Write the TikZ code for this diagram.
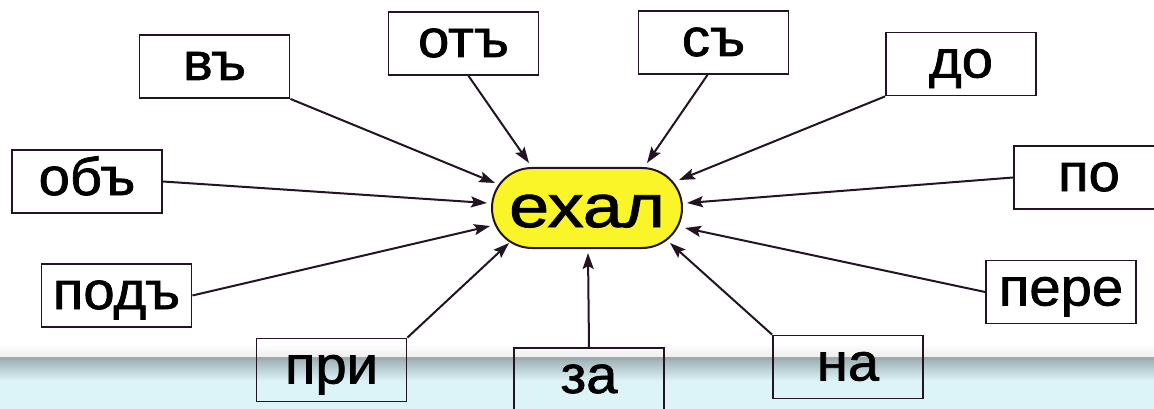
\documentclass[tikz,border=0pt]{standalone}
\usepackage{fontspec}
\setmainfont{Liberation Sans}
\newfontfamily\boxfont[FakeStretch=1.06,FakeBold=1.3]{Liberation Sans}
\newfontfamily\ehalfont[FakeStretch=1.2,FakeBold=1.5]{Liberation Sans}
\usetikzlibrary{arrows.meta}
\definecolor{edge}{RGB}{35,20,35}
\definecolor{bandgray}{RGB}{160,170,172}
\definecolor{bandtop}{RGB}{160,178,181}
\definecolor{bandblue}{RGB}{220,243,248}
\definecolor{ehalyellow}{RGB}{250,245,40}
\tikzset{
  wordbox/.style={draw=edge, line width=1.8pt, rectangle, minimum width=150pt,
    minimum height=63pt, inner sep=0pt, text height=27pt, text depth=0pt,
    font=\boxfont\fontsize{53}{60}\selectfont},
  centre/.style={draw=edge, line width=2pt, fill=ehalyellow, rectangle,
    rounded corners=40pt, minimum width=190pt, minimum height=80pt, inner sep=0pt,
    text height=38pt, text depth=0pt, font=\ehalfont\fontsize{60}{66}\selectfont},
  arr/.style={draw=edge, line width=2pt, -{Stealth[length=16pt,width=11pt,inset=3pt]}}
}
\begin{document}
\begin{tikzpicture}[x=1pt,y=-1pt]
\useasboundingbox (0,0) rectangle (1154,409);
% background
\fill[white] (0,0) rectangle (1154,409);
\shade[top color=white, bottom color=black!7] (0,343) rectangle (1154,357.5);
\fill[bandblue] (0,380) rectangle (1154,409);
\shade[top color=bandtop, bottom color=bandblue] (0,359) rectangle (1154,380.5);
\fill[bandgray] (0,357) rectangle (1154,359.5);
% centre
\node[centre] (ehal) at (587,208) {ехал};
% boxes
\node[wordbox] (v)    at (214.5,66.5) {въ};
\node[wordbox] (ob)   at (87,181.5)   {объ};
\node[wordbox] (pod)  at (116.5,295.5){подъ};
\node[wordbox] (pri)  at (331.5,370)  {при};
\node[wordbox] (ot)   at (463.5,43.5) {отъ};
\node[wordbox] (s)    at (713.5,42.5) {съ};
\node[wordbox] (do)   at (961,64)     {до};
\node[wordbox] (po)   at (1089,177.5) {по};
\node[wordbox] (pere) at (1061,292)   {пере};
\node[wordbox] (na)   at (848,367)    {на};
\node[wordbox] (za)   at (589,379.5)  {за};
% arrow tips
\coordinate (tv)    at (495,183);
\coordinate (tob)   at (487,203);
\coordinate (tpod)  at (490,226);
\coordinate (tpri)  at (509,243);
\coordinate (tot)   at (529,163);
\coordinate (ts)    at (647,163);
\coordinate (tdo)   at (679,180);
\coordinate (tpo)   at (687,203);
\coordinate (tpere) at (685,228);
\coordinate (tna)   at (670,243);
\coordinate (tza)   at (588,253);
% connectors
\draw[arr] (v.south east) -- (tv);
\draw[arr] (ob.east) -- (tob);
\draw[arr] (pod.east) -- (tpod);
\draw[arr] (pri.north east) -- (tpri);
\draw[arr] ([xshift=5pt]ot.south) -- (tot);
\draw[arr] ([xshift=-6pt]s.south) -- (ts);
\draw[arr] (do.south west) -- (tdo);
\draw[arr] (po.west) -- (tpo);
\draw[arr] (pere.west) -- (tpere);
\draw[arr] (na.north west) -- (tna);
\draw[arr] (za.north) -- (tza);
\end{tikzpicture}
\end{document}
